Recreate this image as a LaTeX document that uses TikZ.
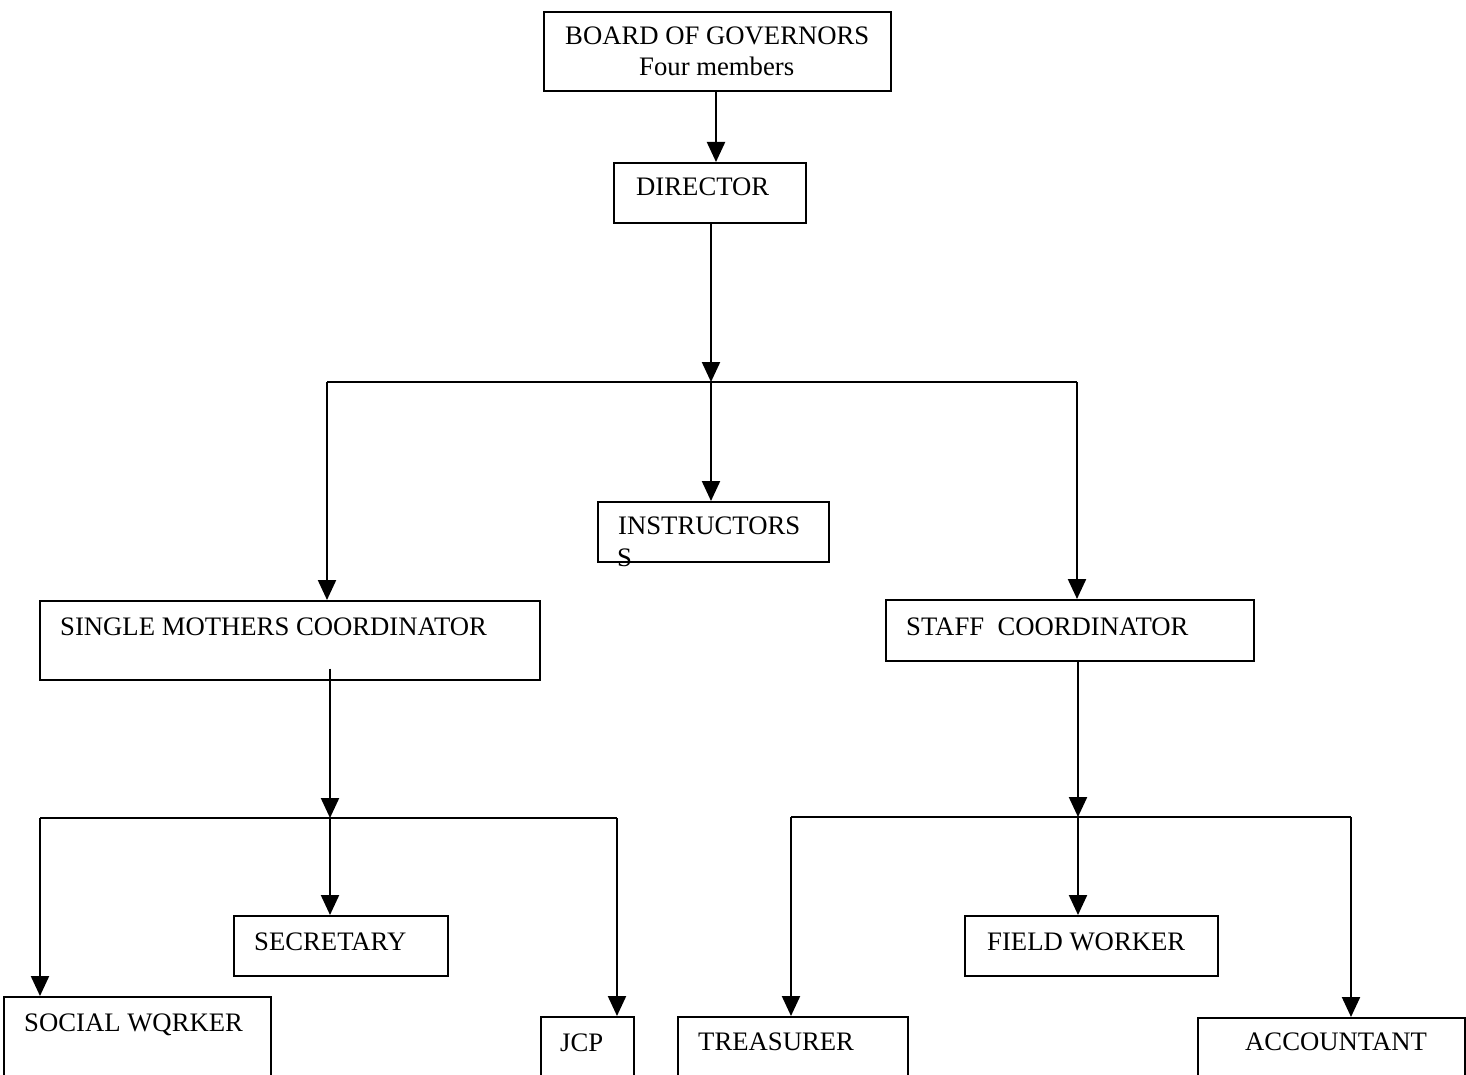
\documentclass[tikz,border=0pt]{standalone}
\usepackage{fontspec}
\setmainfont{Liberation Serif}
\usetikzlibrary{arrows.meta}
\tikzset{
  box/.style={draw, line width=1.7pt, rectangle, inner sep=0pt, anchor=north west},
  lbl/.style={anchor=base west, inner sep=0pt, font=\fontsize{26.7}{28}\selectfont},
  conn/.style={line width=2.2pt},
  arr/.style={line width=2.2pt, -{Triangle[width=18pt,length=20pt]}}
}
\begin{document}
\begin{tikzpicture}[x=1pt,y=-1pt]
\useasboundingbox (0,0) rectangle (1466,1075);
\clip (0,0) rectangle (1466,1075);
% boxes
\node[box, minimum width=347pt, minimum height=79pt] (board) at (543,11) {};
\node[box, minimum width=192pt, minimum height=60pt] (director) at (613,162) {};
\node[box, minimum width=231pt, minimum height=60pt] (instr) at (597,501) {};
\node[box, minimum width=500pt, minimum height=79pt] (sm) at (39,600) {};
\node[box, minimum width=368pt, minimum height=61pt] (staff) at (885,599) {};
\node[box, minimum width=214pt, minimum height=60pt] (secretary) at (233,915) {};
\node[box, minimum width=253pt, minimum height=60pt] (field) at (964,915) {};
\node[box, minimum width=267pt, minimum height=100pt] (social) at (3,996) {};
\node[box, minimum width=93pt, minimum height=80pt] (jcp) at (540,1016) {};
\node[box, minimum width=230pt, minimum height=80pt] (treasurer) at (677,1016) {};
\node[box, minimum width=267pt, minimum height=80pt] (accountant) at (1197,1017) {};
% texts
\node[lbl] (boardt) at (565,45) {BOARD OF GOVERNORS};
\node[lbl] (boardt2) at (639,76) {Four members};
\node[lbl] (directort) at (636,196) {DIRECTOR};
\node[lbl] (instrt) at (618,534) {INSTRUCTORS};
\node[lbl] (instrt2) at (617,566) {S};
\node[lbl] (smt) at (60,635) {SINGLE MOTHERS COORDINATOR};
\node[lbl] (stafft) at (906,635) {STAFF\ \ COORDINATOR};
\node[lbl] (secretaryt) at (254,950) {SECRETARY};
\node[lbl] (fieldt) at (987,950) {FIELD WORKER};
\node[lbl] (socialt) at (24,1031) {SOCIAL WQRKER};
\node[lbl] (jcpt) at (560,1051) {JCP};
\node[lbl] (treasurert) at (698,1050) {TREASURER};
\node[lbl] (accountantt) at (1245,1050) {ACCOUNTANT};
% junction coordinates
\coordinate (j1) at (711,382);
\coordinate (j1l) at (327,382);
\coordinate (j1r) at (1077,382);
\coordinate (j2) at (330,818);
\coordinate (j2l) at (40,818);
\coordinate (j2r) at (617,818);
\coordinate (j3) at (1078,817);
\coordinate (j3l) at (791,817);
\coordinate (j3r) at (1351,817);
% connectors
\draw[arr] (board.south -| 716,0) -- (director.north -| 716,0);
\draw[arr] (j1 |- director.south) -- (j1);
\draw[conn] (j1l) -- (j1r);
\draw[arr] (j1l) -- (j1l |- sm.north);
\draw[arr] (j1) -- (j1 |- instr.north);
\draw[arr] (j1r) -- (j1r |- staff.north);
\draw[arr] ([yshift=12pt]j2 |- sm.south) -- (j2);
\draw[conn] (j2l) -- (j2r);
\draw[arr] (j2l) -- (j2l |- social.north);
\draw[arr] (j2) -- (j2 |- secretary.north);
\draw[arr] (j2r) -- (j2r |- jcp.north);
\draw[arr] (j3 |- staff.south) -- (j3);
\draw[conn] (j3l) -- (j3r);
\draw[arr] (j3l) -- (j3l |- treasurer.north);
\draw[arr] (j3) -- (j3 |- field.north);
\draw[arr] (j3r) -- (j3r |- accountant.north);
\end{tikzpicture}
\end{document}
